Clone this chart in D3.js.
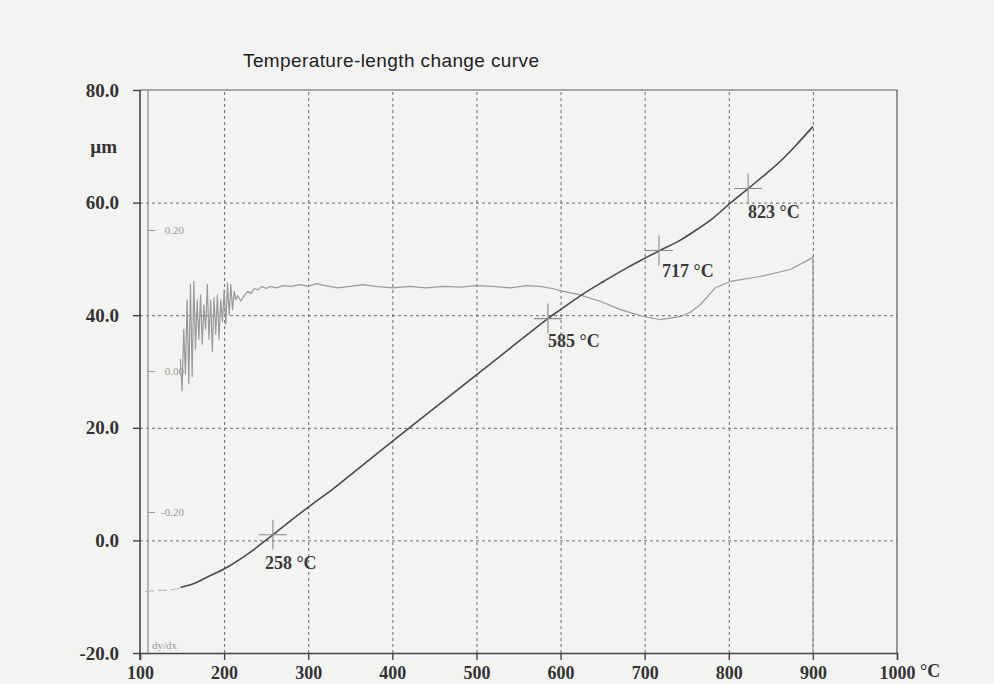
<!DOCTYPE html>
<html>
<head>
<meta charset="utf-8">
<script src="https://cdn.jsdelivr.net/npm/d3@7"></script>
<style>
  html, body { margin: 0; padding: 0; background: #f3f3f2; }
  svg { display: block; }
  .serif { font-family: "Liberation Serif", "DejaVu Serif", serif; }
</style>
</head>
<body>
<div id="chart"></div>
<script>
// ---- data ----
const xTicks = [100, 200, 300, 400, 500, 600, 700, 800, 900, 1000];
const yTicks = [-20, 0, 20, 40, 60, 80];
const y2Ticks = [-0.2, 0, 0.2];

// length change curve (°C, µm)
const lenTemp = [148, 165, 180, 202, 230, 258, 280, 301, 330, 360, 400, 450, 500, 528, 560, 585, 600, 623, 650, 680, 700, 718, 742, 760, 781, 801, 823, 845, 861, 880, 900];
const lenVal  = [-8.35, -7.6, -6.5, -4.9, -2.2, 1.0, 3.6, 6.0, 9.2, 12.8, 17.6, 23.5, 29.4, 32.7, 36.5, 39.4, 41.0, 43.4, 45.9, 48.5, 50.1, 51.5, 53.3, 55.0, 57.2, 59.8, 62.5, 65.2, 67.3, 70.2, 73.5];

// faint lead-in before the length curve
const leadTemp = [106, 120, 135, 147];
const leadVal  = [-9.1, -8.9, -8.8, -8.5];

// dy/dx curve (°C, right-hand scale)
const dTemp = [148, 150, 152, 154, 156, 158, 160, 162, 164, 166, 168, 170, 172, 174, 176, 178, 180, 182, 184, 186, 188, 190, 192, 194, 196, 198, 200, 202, 204, 206, 208, 210, 212, 214, 216, 220, 224, 228, 232, 236, 240, 245, 250, 255, 262, 270, 280, 290, 300, 310, 320, 335, 350, 365, 380, 400, 420, 440, 460, 480, 500, 520, 540, 560, 575, 590, 600, 623, 647, 671, 700, 718, 742, 754, 766, 784, 802, 837, 873, 897, 900, 900];
const dVal  = [0.017, -0.028, 0.059, -0.004, 0.101, -0.018, 0.123, -0.008, 0.127, 0.031, 0.101, 0.045, 0.108, 0.038, 0.094, 0.059, 0.123, 0.045, 0.101, 0.028, 0.104, 0.052, 0.108, 0.045, 0.101, 0.070, 0.115, 0.066, 0.125, 0.080, 0.123, 0.087, 0.113, 0.101, 0.107, 0.099, 0.107, 0.113, 0.110, 0.117, 0.115, 0.120, 0.117, 0.120, 0.118, 0.121, 0.120, 0.1225, 0.120, 0.124, 0.121, 0.118, 0.120, 0.1225, 0.120, 0.118, 0.120, 0.118, 0.120, 0.119, 0.121, 0.120, 0.118, 0.121, 0.120, 0.117, 0.114, 0.108, 0.099, 0.087, 0.077, 0.073, 0.077, 0.083, 0.094, 0.118, 0.127, 0.134, 0.144, 0.159, 0.162, -0.40];

// marked transformation points
const markTemp = [258, 585, 717, 823];
const markVal  = [1.0, 39.4, 51.5, 62.5];
const markText = ["258 °C", "585 °C", "717 °C", "823 °C"];

// ---- layout ----
const width = 994, height = 684;
const plot = { left: 140, right: 897, top: 90, bottom: 653 };

const svg = d3.select("#chart").append("svg")
  .attr("width", width)
  .attr("height", height);

const x = d3.scaleLinear().domain([100, 1000]).range([plot.left, plot.right]);
const y = d3.scaleLinear().domain([-20, 80]).range([plot.bottom, plot.top]);
const y2 = d3.scaleLinear().domain([-0.2, 0.2]).range([512, 230]);

// title
svg.append("text")
  .attr("x", 243)
  .attr("y", 67)
  .attr("font-family", "Liberation Sans, Arial, sans-serif")
  .attr("font-size", 19)
  .attr("fill", "#222")
  .attr("textLength", 296)
  .text("Temperature-length change curve");

// --- gridlines ---
const grid = svg.append("g").attr("class", "grid");
grid.append("g")
  .attr("transform", `translate(0,${plot.bottom})`)
  .call(d3.axisBottom(x).tickValues(xTicks.slice(1, -1)).tickFormat("").tickSize(-(plot.bottom - plot.top)))
  .call(g => g.select(".domain").remove());
grid.append("g")
  .attr("transform", `translate(${plot.left},0)`)
  .call(d3.axisLeft(y).tickValues(yTicks.slice(1, -1)).tickFormat("").tickSize(-(plot.right - plot.left)))
  .call(g => g.select(".domain").remove());
grid.selectAll("line")
  .attr("stroke", "#6a6a6a")
  .attr("stroke-width", 1)
  .attr("stroke-dasharray", "3,3");

// frame: top and right
svg.append("path")
  .attr("d", `M${plot.left},${plot.top}H${plot.right}V${plot.bottom}`)
  .attr("fill", "none")
  .attr("stroke", "#5a5a5a")
  .attr("stroke-width", 1.2);

// --- x axis ---
const xAxis = svg.append("g")
  .attr("transform", `translate(0,${plot.bottom})`)
  .call(d3.axisBottom(x).tickValues(xTicks).tickSize(7).tickPadding(6).tickFormat(d3.format("d")));
xAxis.select(".domain").attr("stroke", "#444").attr("stroke-width", 1.4);
xAxis.selectAll(".tick line").attr("stroke", "#444").attr("stroke-width", 1.4);
xAxis.selectAll(".tick text")
  .attr("class", "serif")
  .attr("font-size", 18)
  .attr("font-weight", "bold")
  .attr("fill", "#333");
svg.append("text")
  .attr("class", "serif")
  .attr("x", 920)
  .attr("y", 677)
  .attr("font-size", 18)
  .attr("font-weight", "bold")
  .attr("fill", "#333")
  .text("°C");

// --- y axis (µm) ---
const yAxis = svg.append("g")
  .attr("transform", `translate(${plot.left},0)`)
  .call(d3.axisLeft(y).tickValues(yTicks).tickSize(7).tickPadding(14).tickFormat(d3.format(".1f")));
yAxis.select(".domain").attr("stroke", "#444").attr("stroke-width", 1.6)
  .attr("d", `M0,${plot.top}V${plot.bottom + 7}`);
yAxis.selectAll(".tick line").attr("stroke", "#444").attr("stroke-width", 1.4);
yAxis.selectAll(".tick text")
  .attr("class", "serif")
  .attr("font-size", 19)
  .attr("font-weight", "bold")
  .attr("fill", "#333")
  .text(d => d3.format(".1f")(d).replace("−", "-"));
svg.append("text")
  .attr("class", "serif")
  .attr("x", 117)
  .attr("y", 153)
  .attr("text-anchor", "end")
  .attr("font-size", 19)
  .attr("font-weight", "bold")
  .attr("fill", "#333")
  .text("µm");

// --- dy/dx axis ---
const y2Axis = svg.append("g")
  .attr("transform", `translate(148,0)`)
  .call(d3.axisRight(y2).tickValues(y2Ticks).tickSize(7).tickFormat(d => d3.format(".2f")(d).replace("−", "-")));
y2Axis.select(".domain").attr("stroke", "#8a8a8a").attr("stroke-width", 1.2)
  .attr("d", `M0,${plot.top}V${plot.bottom}`);
y2Axis.selectAll(".tick line").attr("stroke", "#999");
y2Axis.selectAll(".tick text")
  .attr("class", "serif")
  .attr("x", 36)
  .attr("text-anchor", "end")
  .attr("font-size", 11)
  .attr("fill", "#999");
svg.append("text")
  .attr("class", "serif")
  .attr("x", 152)
  .attr("y", 649)
  .attr("font-size", 11)
  .attr("fill", "#999")
  .text("dy/dx");

// --- curves ---
svg.append("clipPath").attr("id", "plotclip")
  .append("rect")
  .attr("x", plot.left).attr("y", plot.top)
  .attr("width", plot.right - plot.left).attr("height", plot.bottom - plot.top);

const dLine = d3.line().x(d => x(d[0])).y(d => y2(d[1]));
svg.append("path")
  .datum(d3.zip(dTemp, dVal))
  .attr("clip-path", "url(#plotclip)")
  .attr("d", dLine)
  .attr("fill", "none")
  .attr("stroke", "#9a9a9a")
  .attr("stroke-width", 1.2)
  .attr("stroke-linejoin", "round");

const lenLine = d3.line().curve(d3.curveMonotoneX).x(d => x(d[0])).y(d => y(d[1]));
svg.append("path")
  .datum(d3.zip(leadTemp, leadVal))
  .attr("d", lenLine)
  .attr("fill", "none")
  .attr("stroke", "#b8b8b8")
  .attr("stroke-width", 1.2)
  .attr("stroke-dasharray", "9,4");
svg.append("path")
  .datum(d3.zip(lenTemp, lenVal))
  .attr("d", lenLine)
  .attr("fill", "none")
  .attr("stroke", "#4a4a4a")
  .attr("stroke-width", 1.6);

// --- crosshair markers + labels ---
const labelNudge = [[-8, 34], [0, 28], [3, 27], [0, 29]];
const marks = svg.append("g").selectAll("g")
  .data(markTemp.map((t, i) => ({ t, v: markVal[i], label: markText[i], nudge: labelNudge[i] })))
  .join("g")
  .attr("transform", d => `translate(${x(d.t)},${y(d.v)})`);
marks.append("path")
  .attr("d", "M-14,0H14M0,-15V15")
  .attr("stroke", "#8a8a8a")
  .attr("stroke-width", 1.1);
marks.append("text")
  .attr("class", "serif")
  .attr("x", d => d.nudge[0])
  .attr("y", d => d.nudge[1])
  .attr("font-size", 18)
  .attr("font-weight", "bold")
  .attr("fill", "#3a3a3a")
  .text(d => d.label);
</script>
</body>
</html>
